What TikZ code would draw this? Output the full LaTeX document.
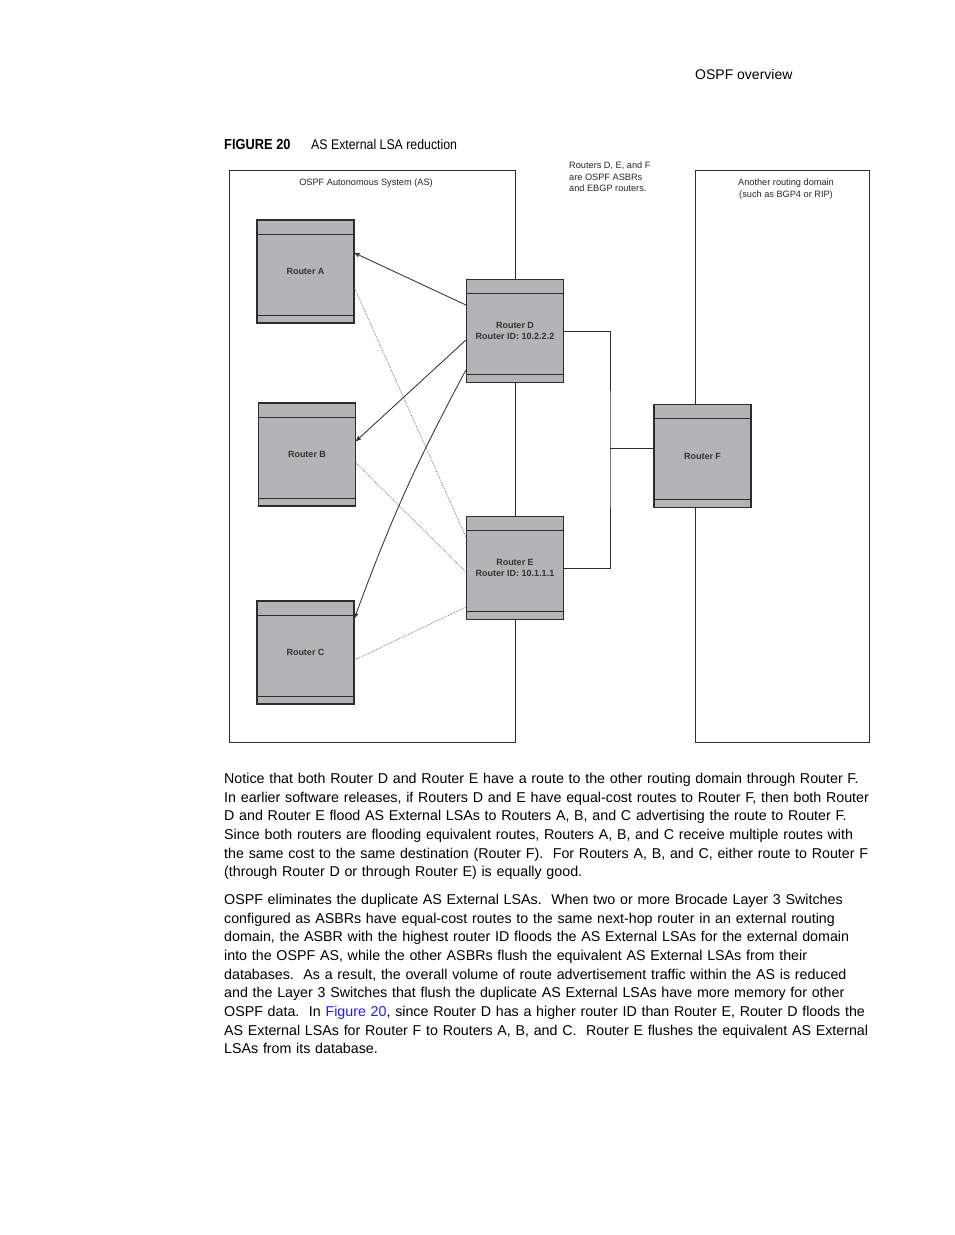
\documentclass[tikz,border=0pt]{standalone}
\usepackage{fontspec}
\setmainfont{Liberation Sans}
\newfontfamily\bodyfont{Liberation Sans}
\newfontfamily\capfont[FakeStretch=0.88]{Liberation Sans}
\usepackage{xcolor}
\usetikzlibrary{positioning,arrows,calc}
\definecolor{routerGray}{RGB}{179,180,182}
\definecolor{edgeDark}{RGB}{45,45,45}
\definecolor{linkBlue}{RGB}{30,30,235}

\begin{document}
\begin{tikzpicture}[
        x=1pt, y=-1pt, >=stealth',
        router/.style={draw=edgeDark, line width=1.1pt, fill=routerGray, minimum width=97pt, minimum height=103pt, inner sep=0pt, align=center, text=black!80, font=\fontsize{9}{11.5}\selectfont\bfseries,
            path picture={
                \draw[edgeDark, line width=0.8pt] ([yshift=-14pt]path picture bounding box.north west) -- ([yshift=-14pt]path picture bounding box.north east);
                \draw[edgeDark, line width=0.8pt] ([yshift=8pt]path picture bounding box.south west) -- ([yshift=8pt]path picture bounding box.south east);
            }},
        areabox/.style={draw=edgeDark, line width=0.8pt, inner sep=0pt},
        note/.style={align=left, inner sep=0pt, text=black!85, font=\fontsize{9.2}{11.5}\selectfont},
        flood/.style={->, draw=black!80, line width=0.85pt},
        flush/.style={densely dotted, draw=black!60, line width=0.7pt},
        link/.style={draw=edgeDark, line width=0.8pt},
        para/.style={anchor=north west, align=left, inner sep=0pt, text width=690pt, font=\bodyfont\fontsize{14.25}{18.65}\selectfont}
    ]
    \useasboundingbox (0,0) rectangle (954,1235);

    % page header and caption
    \node[anchor=base west, inner sep=0pt, font=\fontsize{14}{16}\selectfont] (header) at (695,79) {OSPF overview};
    \node[anchor=base west, inner sep=0pt, font=\capfont\fontsize{14.6}{17}\selectfont\bfseries] (fignum) at (224,149) {FIGURE 20};
    \node[anchor=base west, inner sep=0pt, font=\capfont\fontsize{14}{17}\selectfont] (figtitle) at (311,149) {AS External LSA reduction};

    % the two routing domains
    \node[areabox, minimum width=286pt, minimum height=572pt] (as) at (372,456) {};
    \node[areabox, minimum width=174pt, minimum height=572pt] (other) at (782,456) {};
    \node[note, align=center, anchor=north] (aslabel) at (366,179) {OSPF Autonomous System (AS)};
    \node[note, align=center, anchor=north] (otherlabel) at (786,179) {Another routing domain\\(such as BGP4 or RIP)};
    \node[note, anchor=north west] (asbrnote) at (569,162) {Routers D, E, and F\\are OSPF ASBRs\\and EBGP routers.};

    % routers
    \node[router] (ra) at (305.5,271.5) {Router A};
    \node[router] (rb) at (307,454.5) {Router B};
    \node[router] (rc) at (305.5,652.5) {Router C};
    \node[router] (rd) at (515,331) {Router D\\Router ID: 10.2.2.2};
    \node[router] (re) at (515,568) {Router E\\Router ID: 10.1.1.1};
    \node[router] (rf) at (702.5,456) {Router F};

    % links to router F
    \coordinate (bus) at (610,448);
    \draw[link] (rd.east) -| (bus) |- (re.east);
    \draw[link] (bus) -- (rf.west |- bus);

    % LSAs flooded by router D
    \draw[flood] ([yshift=26pt]rd.west) -- ([yshift=18.5pt]ra.east);
    \draw[flood] ([yshift=-9pt]rd.west) -- ([yshift=13.5pt]rb.east);
    \draw[flood] ([yshift=-39pt]rd.west) to[bend right=4] ([yshift=34.5pt]rc.east);

    % LSAs flushed by router E
    \draw[flush] ([yshift=-16.5pt]ra.east) -- ([yshift=31pt]re.west);
    \draw[flush] ([yshift=-8.5pt]rb.east) -- ([yshift=-4pt]re.west);
    \draw[flush] ([yshift=-7.5pt]rc.east) -- ([yshift=-39pt]re.west);

    % body text
    \node[para] (para1) at (224,773) {Notice that both Router D and Router E have a route to the other routing domain through Router F.\\
        In earlier software releases, if Routers D and E have equal-cost routes to Router F, then both Router\\
        D and Router E flood AS External LSAs to Routers A, B, and C advertising the route to Router F.\\
        Since both routers are flooding equivalent routes, Routers A, B, and C receive multiple routes with\\
        the same cost to the same destination (Router F).\ \ For Routers A, B, and C, either route to Router F\\
        (through Router D or through Router E) is equally good.};
    \node[para] (para2) at (224,894) {OSPF eliminates the duplicate AS External LSAs.\ \ When two or more Brocade Layer 3 Switches\\
        configured as ASBRs have equal-cost routes to the same next-hop router in an external routing\\
        domain, the ASBR with the highest router ID floods the AS External LSAs for the external domain\\
        into the OSPF AS, while the other ASBRs flush the equivalent AS External LSAs from their\\
        databases.\ \ As a result, the overall volume of route advertisement traffic within the AS is reduced\\
        and the Layer 3 Switches that flush the duplicate AS External LSAs have more memory for other\\
        OSPF data.\ \ In \textcolor{linkBlue}{Figure 20}, since Router D has a higher router ID than Router E, Router D floods the\\
        AS External LSAs for Router F to Routers A, B, and C.\ \ Router E flushes the equivalent AS External\\
        LSAs from its database.};
\end{tikzpicture}
\end{document}
